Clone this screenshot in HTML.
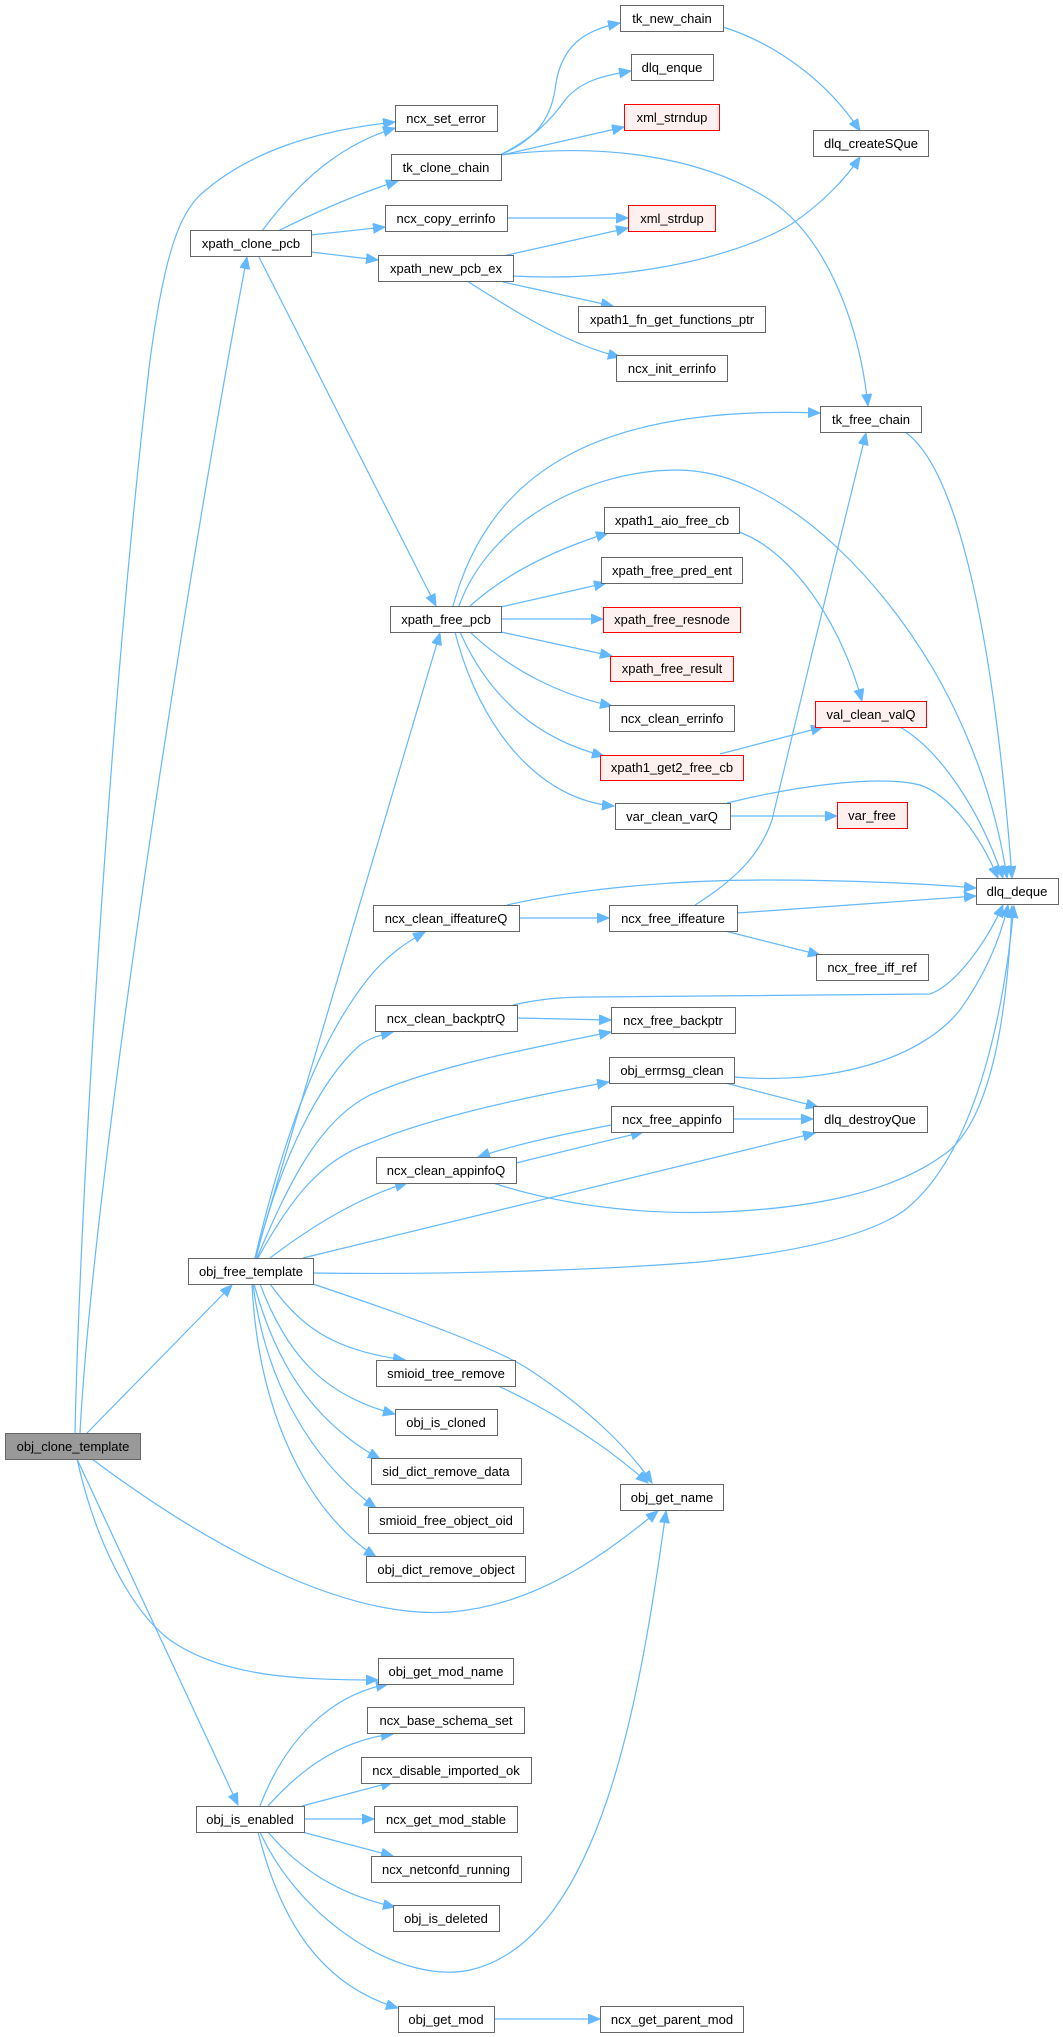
<!DOCTYPE html>
<html>
<head>
<meta charset="utf-8">
<style>
  html, body { margin: 0; padding: 0; background: #ffffff; }
  svg { display: block; }
  text { font-family: "Liberation Sans", Arial, sans-serif; font-size: 13px; fill: #000; }
</style>
</head>
<body>
<svg width="1063" height="2037" viewBox="0 0 1063 2037" xmlns="http://www.w3.org/2000/svg">
<defs>
  <marker id="a" markerUnits="userSpaceOnUse" markerWidth="13" markerHeight="11" refX="12" refY="5" orient="auto">
    <path d="M0,0 L12,5 L0,10 z" fill="#63b8ff" stroke="#63b8ff" stroke-width="1"/>
  </marker>
</defs>
<g fill="none" stroke="#63b8ff" stroke-width="1.2" marker-end="url(#a)">
  <!-- obj_clone_template edges -->
  <path d="M75,1433 C80,1200 110,700 150,360 C165,250 180,215 200,195 C250,150 320,130 395,122"/>
  <path d="M80,1433 C95,1150 200,500 247,257"/>
  <path d="M87,1433 L232,1285"/>
  <path d="M92,1459 C200,1540 340,1620 450,1612 C540,1605 610,1550 658,1511"/>
  <path d="M77,1459 C95,1540 130,1610 170,1640 C220,1675 290,1680 378,1680"/>
  <path d="M77,1459 L238,1805"/>
  <!-- xpath_clone_pcb -->
  <path d="M262,231 C300,180 340,145 395,128"/>
  <path d="M278,231 C320,210 360,193 398,181"/>
  <path d="M311,235 L385,227"/>
  <path d="M311,252 L378,260"/>
  <path d="M259,257 L436,606"/>
  <!-- tk_clone_chain -->
  <path d="M500,155 C535,140 550,120 555,90 C560,45 585,30 620,23"/>
  <path d="M500,155 C530,140 550,122 565,100 C580,82 600,76 631,71"/>
  <path d="M502,155 L624,127"/>
  <path d="M500,155 C600,143 700,155 770,200 C830,240 860,330 868,406"/>
  <path d="M723,27 C780,45 830,85 860,131"/>
  <path d="M507,218 L628,218"/>
  <!-- xpath_new_pcb_ex -->
  <path d="M503,256 L628,228"/>
  <path d="M513,276 C620,282 730,260 790,225 C820,205 845,180 860,157"/>
  <path d="M503,282 L613,306"/>
  <path d="M467,281 C520,315 570,345 620,357"/>
  <!-- xpath_free_pcb -->
  <path d="M453,606 C490,470 600,405 820,413"/>
  <path d="M459,606 C490,520 590,470 677,470 C790,470 900,600 950,700 C985,770 1000,830 1007,878"/>
  <path d="M470,606 C510,570 560,548 608,533"/>
  <path d="M501,607 L606,583"/>
  <path d="M501,619 L603,619"/>
  <path d="M501,632 L612,656"/>
  <path d="M470,632 C510,670 560,695 612,706"/>
  <path d="M460,632 C490,700 540,740 604,756"/>
  <path d="M455,632 C480,730 540,800 614,806"/>
  <path d="M739,532 C790,550 840,620 862,701"/>
  <path d="M720,754 L823,727"/>
  <path d="M730,816 L837,816"/>
  <path d="M900,727 C940,750 980,810 1003,878"/>
  <path d="M905,432 C960,470 995,650 1012,878"/>
  <path d="M727,803 C800,785 880,775 920,785 C950,795 980,835 998,878"/>
  <!-- iffeature -->
  <path d="M695,905 C735,880 760,855 772,820 C800,700 840,540 866,433"/>
  <path d="M519,918 L609,918"/>
  <path d="M507,905 C560,893 650,880 767,880 C850,880 930,884 976,888"/>
  <path d="M737,913 L976,896"/>
  <path d="M725,931 L820,955"/>
  <!-- backptr -->
  <path d="M513,1005 C540,999 560,997 590,997 L930,994 C955,985 985,945 1003,905"/>
  <path d="M517,1018 L611,1020"/>
  <!-- errmsg / appinfo -->
  <path d="M734,1077 C830,1085 920,1060 960,1010 C985,975 1000,940 1008,905"/>
  <path d="M725,1083 L818,1107"/>
  <path d="M733,1119 L813,1119"/>
  <path d="M611,1125 C570,1133 520,1143 478,1157"/>
  <path d="M516,1163 L643,1132"/>
  <path d="M493,1183 C560,1205 640,1215 720,1212 C820,1208 900,1190 950,1150 C995,1110 1008,1000 1012,906"/>
  <!-- obj_free_template -->
  <path d="M255,1258 L440,633"/>
  <path d="M255,1258 C285,1130 320,1040 367,980 C385,957 405,943 425,932"/>
  <path d="M256,1258 C280,1160 320,1080 360,1045 C370,1038 380,1035 393,1032"/>
  <path d="M257,1258 C290,1180 320,1120 370,1095 C430,1068 520,1050 611,1032"/>
  <path d="M258,1258 C290,1200 320,1160 370,1143 C430,1118 520,1098 609,1082"/>
  <path d="M270,1258 C300,1235 350,1200 407,1183"/>
  <path d="M303,1258 L815,1133"/>
  <path d="M313,1273 C450,1275 600,1270 700,1262 C800,1252 870,1235 905,1210 C980,1150 1005,1000 1014,906"/>
  <path d="M313,1284 C420,1320 500,1350 530,1370 C590,1410 630,1450 652,1483"/>
  <path d="M498,1386 C540,1405 600,1440 648,1483"/>
  <path d="M270,1284 C300,1325 330,1350 405,1360"/>
  <path d="M260,1284 C285,1350 320,1395 395,1414"/>
  <path d="M254,1284 C275,1360 310,1420 380,1459"/>
  <path d="M253,1284 C265,1380 310,1460 376,1508"/>
  <path d="M252,1284 C258,1410 305,1510 376,1557"/>
  <!-- obj_is_enabled -->
  <path d="M260,1806 C285,1740 330,1695 388,1684"/>
  <path d="M268,1806 C300,1770 340,1740 393,1734"/>
  <path d="M302,1806 L393,1782"/>
  <path d="M304,1819 L374,1819"/>
  <path d="M302,1832 L393,1856"/>
  <path d="M268,1832 C300,1870 340,1895 395,1907"/>
  <path d="M260,1832 C300,1920 400,1985 470,1970 C600,1940 640,1700 666,1511"/>
  <path d="M258,1832 C280,1920 320,1985 398,2008"/>
  <path d="M494,2019 L600,2019"/>
</g>

<g stroke-width="1">
  <!-- normal nodes -->
  <g fill="#ffffff" stroke="#666666">
    <rect x="395.5" y="105.5" width="102" height="26"/>
    <rect x="620.5" y="5.5" width="103" height="26"/>
    <rect x="631.5" y="54.5" width="82" height="26"/>
    <rect x="813.5" y="130.5" width="115" height="26"/>
    <rect x="391.5" y="154.5" width="110" height="26"/>
    <rect x="385.5" y="205.5" width="122" height="26"/>
    <rect x="190.5" y="230.5" width="121" height="26"/>
    <rect x="378.5" y="255.5" width="135" height="26"/>
    <rect x="578.5" y="306.5" width="187" height="26"/>
    <rect x="616.5" y="355.5" width="111" height="26"/>
    <rect x="820.5" y="406.5" width="101" height="26"/>
    <rect x="604.5" y="507.5" width="135" height="26"/>
    <rect x="601.5" y="557.5" width="141" height="26"/>
    <rect x="390.5" y="606.5" width="111" height="26"/>
    <rect x="609.5" y="705.5" width="125" height="26"/>
    <rect x="615.5" y="803.5" width="115" height="26"/>
    <rect x="976.5" y="878.5" width="82" height="26"/>
    <rect x="373.5" y="905.5" width="146" height="26"/>
    <rect x="609.5" y="905.5" width="128" height="26"/>
    <rect x="816.5" y="954.5" width="112" height="26"/>
    <rect x="375.5" y="1005.5" width="142" height="26"/>
    <rect x="611.5" y="1007.5" width="124" height="26"/>
    <rect x="609.5" y="1057.5" width="125" height="26"/>
    <rect x="611.5" y="1106.5" width="122" height="26"/>
    <rect x="813.5" y="1106.5" width="114" height="26"/>
    <rect x="376.5" y="1157.5" width="140" height="26"/>
    <rect x="188.5" y="1258.5" width="125" height="26"/>
    <rect x="376.5" y="1360.5" width="139" height="26"/>
    <rect x="395.5" y="1409.5" width="102" height="26"/>
    <rect x="371.5" y="1458.5" width="150" height="26"/>
    <rect x="620.5" y="1484.5" width="103" height="26"/>
    <rect x="368.5" y="1507.5" width="155" height="26"/>
    <rect x="366.5" y="1556.5" width="159" height="26"/>
    <rect x="378.5" y="1658.5" width="135" height="26"/>
    <rect x="367.5" y="1707.5" width="157" height="26"/>
    <rect x="361.5" y="1757.5" width="170" height="26"/>
    <rect x="196.5" y="1806.5" width="108" height="26"/>
    <rect x="374.5" y="1806.5" width="143" height="26"/>
    <rect x="371.5" y="1856.5" width="150" height="26"/>
    <rect x="393.5" y="1905.5" width="106" height="26"/>
    <rect x="398.5" y="2006.5" width="96" height="26"/>
    <rect x="600.5" y="2006.5" width="143" height="26"/>
  </g>
  <!-- red nodes -->
  <g fill="#fff0f0" stroke="#ff0000">
    <rect x="624.5" y="104.5" width="95" height="26"/>
    <rect x="628.5" y="205.5" width="87" height="26"/>
    <rect x="603.5" y="607.5" width="137" height="25"/>
    <rect x="610.5" y="656.5" width="123" height="25"/>
    <rect x="815.5" y="701.5" width="111" height="26"/>
    <rect x="600.5" y="755.5" width="143" height="25"/>
    <rect x="837.5" y="802.5" width="70" height="26"/>
  </g>
  <!-- root -->
  <rect x="5.5" y="1433.5" width="135" height="26" fill="#999999" stroke="#666666"/>
</g>

<g text-anchor="middle">
  <text x="446" y="123">ncx_set_error</text>
  <text x="672" y="23">tk_new_chain</text>
  <text x="672" y="72">dlq_enque</text>
  <text x="672" y="122">xml_strndup</text>
  <text x="871" y="148">dlq_createSQue</text>
  <text x="446" y="172">tk_clone_chain</text>
  <text x="446" y="223">ncx_copy_errinfo</text>
  <text x="672" y="223">xml_strdup</text>
  <text x="251" y="248">xpath_clone_pcb</text>
  <text x="446" y="273">xpath_new_pcb_ex</text>
  <text x="672" y="324">xpath1_fn_get_functions_ptr</text>
  <text x="672" y="373">ncx_init_errinfo</text>
  <text x="871" y="424">tk_free_chain</text>
  <text x="672" y="525">xpath1_aio_free_cb</text>
  <text x="672" y="575">xpath_free_pred_ent</text>
  <text x="446" y="624">xpath_free_pcb</text>
  <text x="672" y="624">xpath_free_resnode</text>
  <text x="672" y="673">xpath_free_result</text>
  <text x="672" y="723">ncx_clean_errinfo</text>
  <text x="871" y="719">val_clean_valQ</text>
  <text x="672" y="772">xpath1_get2_free_cb</text>
  <text x="672" y="821">var_clean_varQ</text>
  <text x="872" y="820">var_free</text>
  <text x="1017" y="896">dlq_deque</text>
  <text x="446" y="923">ncx_clean_iffeatureQ</text>
  <text x="673" y="923">ncx_free_iffeature</text>
  <text x="872" y="972">ncx_free_iff_ref</text>
  <text x="446" y="1023">ncx_clean_backptrQ</text>
  <text x="673" y="1025">ncx_free_backptr</text>
  <text x="672" y="1075">obj_errmsg_clean</text>
  <text x="672" y="1124">ncx_free_appinfo</text>
  <text x="870" y="1124">dlq_destroyQue</text>
  <text x="446" y="1175">ncx_clean_appinfoQ</text>
  <text x="251" y="1276">obj_free_template</text>
  <text x="446" y="1378">smioid_tree_remove</text>
  <text x="446" y="1427">obj_is_cloned</text>
  <text x="446" y="1476">sid_dict_remove_data</text>
  <text x="672" y="1502">obj_get_name</text>
  <text x="446" y="1525">smioid_free_object_oid</text>
  <text x="446" y="1574">obj_dict_remove_object</text>
  <text x="73" y="1451">obj_clone_template</text>
  <text x="446" y="1676">obj_get_mod_name</text>
  <text x="446" y="1725">ncx_base_schema_set</text>
  <text x="446" y="1775">ncx_disable_imported_ok</text>
  <text x="250" y="1824">obj_is_enabled</text>
  <text x="446" y="1824">ncx_get_mod_stable</text>
  <text x="446" y="1874">ncx_netconfd_running</text>
  <text x="446" y="1923">obj_is_deleted</text>
  <text x="446" y="2024">obj_get_mod</text>
  <text x="672" y="2024">ncx_get_parent_mod</text>
</g>
</svg>
</body>
</html>
